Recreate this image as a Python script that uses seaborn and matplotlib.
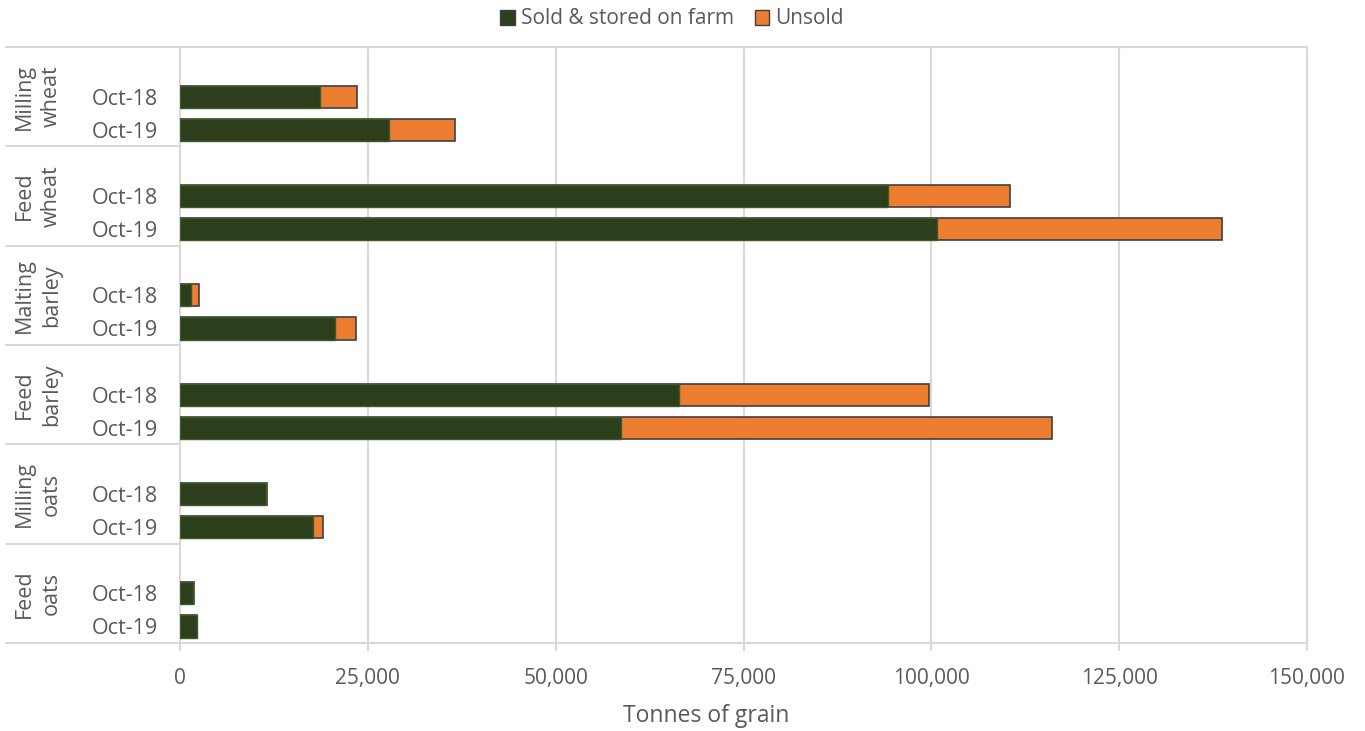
import pandas as pd
import numpy as np
import matplotlib
matplotlib.use("Agg")
import matplotlib.pyplot as plt
from matplotlib.patches import Patch
import seaborn as sns

# values (tonnes)
crops = ["Milling\nwheat", "Feed\nwheat", "Malting\nbarley", "Feed\nbarley", "Milling\noats", "Feed\noats"]
periods = ["Oct-18", "Oct-19"]
sold_oct18 = [18600, 94200, 1400, 66400, 11500, 1700]
sold_oct19 = [27800, 100800, 20600, 58700, 17700, 2200]
unsold_oct18 = [5000, 16300, 1100, 33300, 100, 100]
unsold_oct19 = [8800, 37900, 2800, 57300, 1300, 100]

GREEN = "#2c3e1b"
ORANGE = "#ed7d31"
GRID = "#d9d9d9"
TEXT = "#595959"

sns.set_theme(style="white")
plt.rcParams["font.family"] = ["Open Sans", "DejaVu Sans"]

# build long table, each crop gets 3 slots (first one blank, like the excel chart)
rows = []
for i, crop in enumerate(crops):
    for j, per in enumerate(periods):
        sold = [sold_oct18, sold_oct19][j][i]
        unsold = [unsold_oct18, unsold_oct19][j][i]
        rows.append({"crop": crop, "period": per, "pos": 3 * i + 1 + j,
                     "sold": sold, "total": sold + unsold})
df = pd.DataFrame(rows)

fig = plt.figure(figsize=(13.65, 7.31), dpi=100)
ax = fig.add_axes([180 / 1365, 88 / 731, 1127 / 1365, 596 / 731])

sns.barplot(data=df, x="total", y="pos", orient="y", native_scale=True, width=0.67,
            color=ORANGE, saturation=1, edgecolor="#404040", linewidth=1.2,
            errorbar=None, ax=ax, zorder=3)
sns.barplot(data=df, x="sold", y="pos", orient="y", native_scale=True, width=0.67,
            color=GREEN, saturation=1, edgecolor="#3d5a28", linewidth=1.0,
            errorbar=None, ax=ax, zorder=4)

ax.set_xlim(0, 150000)
ax.set_ylim(17.5, -0.5)
ax.set_xticks(np.arange(0, 150001, 25000))
ax.set_xticklabels([f"{v:,}" for v in range(0, 150001, 25000)])
ax.set_yticks(df["pos"])
ax.set_yticklabels(df["period"])
ax.xaxis.grid(True, color=GRID, linewidth=1.5, zorder=0)
ax.set_axisbelow(True)
ax.tick_params(axis="x", length=6, width=1.5, color=GRID, pad=12, labelsize=15, labelcolor=TEXT,
               bottom=True)
ax.tick_params(axis="y", length=0, pad=16, labelsize=15.5, labelcolor=TEXT)
ax.set_xlabel("")
ax.set_ylabel("")
fig.text(706 / 1365, 1 - 716 / 731, "Tonnes of grain", ha="center", va="center",
         fontsize=16.5, color=TEXT)

for side in ["top", "bottom", "left", "right"]:
    ax.spines[side].set_visible(False)

# outer lines and group separators in the label area
x_left = -174 / 1127
ax.plot([x_left, 1], [1, 1], transform=ax.transAxes, color=GRID, lw=1.5, clip_on=False, zorder=1)
ax.plot([x_left, 1], [0, 0], transform=ax.transAxes, color=GRID, lw=1.5, clip_on=False, zorder=1)
ax.plot([0, 0], [0, 1], transform=ax.transAxes, color=GRID, lw=1.5, clip_on=False, zorder=1)
ax.plot([1, 1], [0, 1], transform=ax.transAxes, color=GRID, lw=1.5, clip_on=False, zorder=1)
ytr = ax.get_yaxis_transform()
for i in range(1, len(crops)):
    ax.plot([x_left, 0], [3 * i - 0.5] * 2, transform=ytr, color=GRID, lw=1.5, clip_on=False)

for i, crop in enumerate(crops):
    ax.text(-142 / 1127, 3 * i + 1.0, crop, transform=ytr, rotation=90, ha="center", va="center",
            fontsize=15.5, color=TEXT, linespacing=1.4, multialignment="center")

handles = [Patch(facecolor=GREEN, edgecolor="#404040", label="Sold & stored on farm"),
           Patch(facecolor=ORANGE, edgecolor="#404040", label="Unsold")]
fig.legend(handles=handles, loc="center", bbox_to_anchor=(672 / 1365, 1 - 19 / 731), ncol=2,
           frameon=False, fontsize=15, handlelength=0.7, handleheight=0.7, handletextpad=0.3,
           columnspacing=1.0, labelcolor=TEXT)

fig.savefig("out.png", dpi=100)
